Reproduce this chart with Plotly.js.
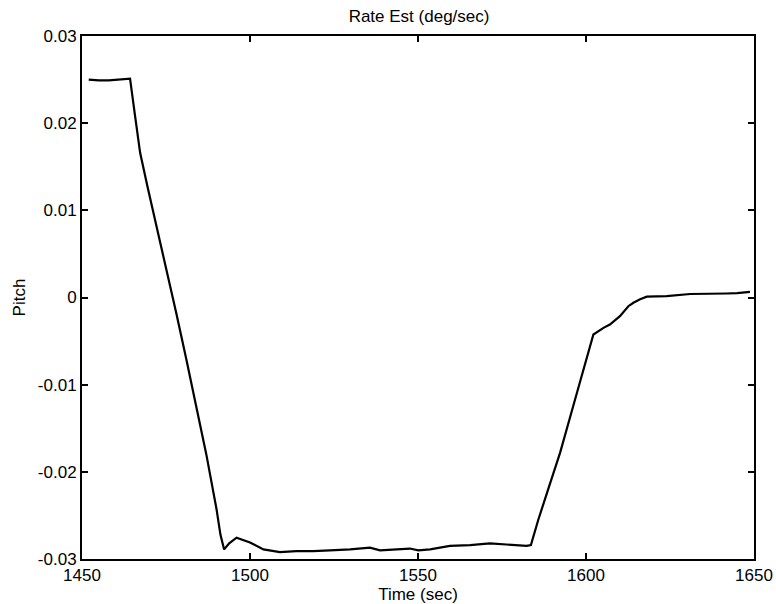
<!DOCTYPE html>
<html>
<head>
<meta charset="utf-8">
<script src="https://cdn.plot.ly/plotly-3.0.1.min.js"></script>
<style>html,body{margin:0;padding:0;background:#fff;}#chart{width:776px;height:604px;}</style>
</head>
<body>
<div id="chart"></div>
<script>
const timeSec = [1452, 1455, 1458, 1461, 1464.3, 1465.8, 1467.3, 1469.5, 1472, 1475, 1478, 1481, 1484, 1487, 1490, 1491.2, 1492.3, 1493.8, 1496, 1500, 1504, 1508.9, 1513.8, 1518.8, 1523.8, 1529.8, 1535.7, 1538.7, 1543.7, 1547.6, 1550.1, 1553.6, 1559.5, 1565.5, 1571.4, 1577.4, 1582.3, 1583.6, 1585.8, 1589, 1592.3, 1596.2, 1599.2, 1602.2, 1605.2, 1607.1, 1610.1, 1612.6, 1614.1, 1616.1, 1618.1, 1624, 1631, 1636, 1641.9, 1645, 1648.8];
const pitchRate = [0.0250, 0.0249, 0.0249, 0.0250, 0.0251, 0.0208, 0.0166, 0.0127, 0.0085, 0.0035, -0.0017, -0.0070, -0.0124, -0.0180, -0.0242, -0.0272, -0.0289, -0.0282, -0.02756, -0.0281, -0.0289, -0.0292, -0.0291, -0.0291, -0.0290, -0.0289, -0.0287, -0.0290, -0.0289, -0.0288, -0.0290, -0.0289, -0.0285, -0.0284, -0.0282, -0.0284, -0.0285, -0.0284, -0.0255, -0.0217, -0.0178, -0.01245, -0.00826, -0.00424, -0.00348, -0.0031, -0.00214, -0.0010, -0.0006, -0.0002, 0.0001, 0.00015, 0.0004, 0.0004, 0.00046, 0.0005, 0.00065];
const xTicks = [1450, 1500, 1550, 1600, 1650];
const yTicks = [-0.03, -0.02, -0.01, 0, 0.01, 0.02, 0.03];
const yTickText = ['-0.03', '-0.02', '-0.01', '0', '0.01', '0.02', '0.03'];

const fnt = {family: 'Arial, "Liberation Sans", Helvetica, sans-serif', size: 17, color: '#000'};

Plotly.newPlot('chart', [{
  x: timeSec, y: pitchRate, type: 'scatter', mode: 'lines',
  line: {color: '#000', width: 2.2}, hoverinfo: 'none'
}], {
  width: 776, height: 604,
  margin: {l: 82, r: 22, t: 36, b: 45},
  paper_bgcolor: '#fff', plot_bgcolor: '#fff',
  showlegend: false,
  font: fnt,
  title: {text: 'Rate Est (deg/sec)', font: fnt, x: 0.54, xanchor: 'center', y: 0.9735, yanchor: 'middle'},
  xaxis: {
    range: [1450, 1650], tickmode: 'array', tickvals: xTicks,
    ticks: 'inside', ticklen: 6, tickwidth: 2, tickcolor: '#000',
    showline: true, linecolor: '#000', linewidth: 2, mirror: 'ticks',
    showgrid: false, zeroline: false, tickfont: fnt,
    title: {text: 'Time (sec)', font: fnt, standoff: 0}
  },
  yaxis: {
    range: [-0.03, 0.03], tickmode: 'array', tickvals: yTicks, ticktext: yTickText,
    ticks: 'inside', ticklen: 6, tickwidth: 2, tickcolor: '#000',
    showline: true, linecolor: '#000', linewidth: 2, mirror: 'ticks',
    showgrid: false, zeroline: false, tickfont: fnt,
    title: {text: 'Pitch', font: fnt, standoff: 8}
  }
}, {displayModeBar: false, staticPlot: true});
</script>
</body>
</html>
